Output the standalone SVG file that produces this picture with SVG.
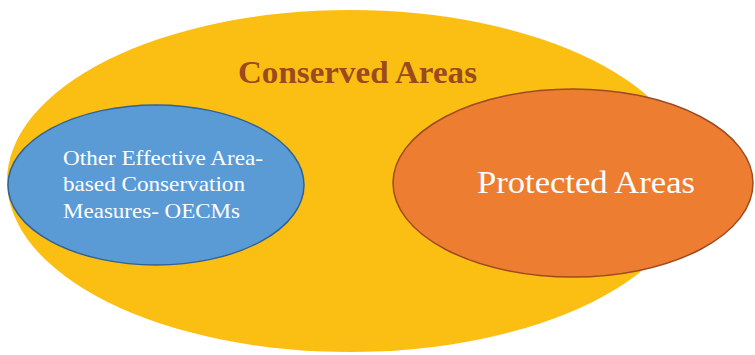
<svg xmlns="http://www.w3.org/2000/svg" width="755" height="355" viewBox="0 0 755 355">
<style>
.t{font-family:"Liberation Serif","Times New Roman",serif;}
.title{font-size:32.5px;font-weight:bold;fill:#9a4a1e;}
.w{fill:#ffffff;}
</style>
<rect width="755" height="355" fill="#ffffff"/>
<g id="conserved">
<ellipse cx="350" cy="181" rx="343" ry="171" fill="#fbbf14"/>
<text class="t title" x="357.5" y="83" text-anchor="middle" textLength="239" lengthAdjust="spacingAndGlyphs">Conserved Areas</text>
</g>
<g id="oecms">
<ellipse cx="156" cy="185" rx="148" ry="80" fill="#5b9bd5" stroke="#2f6395" stroke-width="1.5"/>
<text class="t w" font-size="21.5" x="63" y="165" textLength="200" lengthAdjust="spacingAndGlyphs">Other Effective Area-</text>
<text class="t w" font-size="21.5" x="63" y="191" textLength="182" lengthAdjust="spacingAndGlyphs">based Conservation</text>
<text class="t w" font-size="21.5" x="63" y="218" textLength="177" lengthAdjust="spacingAndGlyphs">Measures- OECMs</text>
</g>
<g id="protected">
<ellipse cx="573" cy="183" rx="180" ry="94" fill="#ed7d31" stroke="#9e4a22" stroke-width="1.5"/>
<text class="t w" font-size="32.5" x="586" y="193" text-anchor="middle" textLength="218" lengthAdjust="spacingAndGlyphs">Protected Areas</text>
</g>
<g id="connectors"/>
</svg>
